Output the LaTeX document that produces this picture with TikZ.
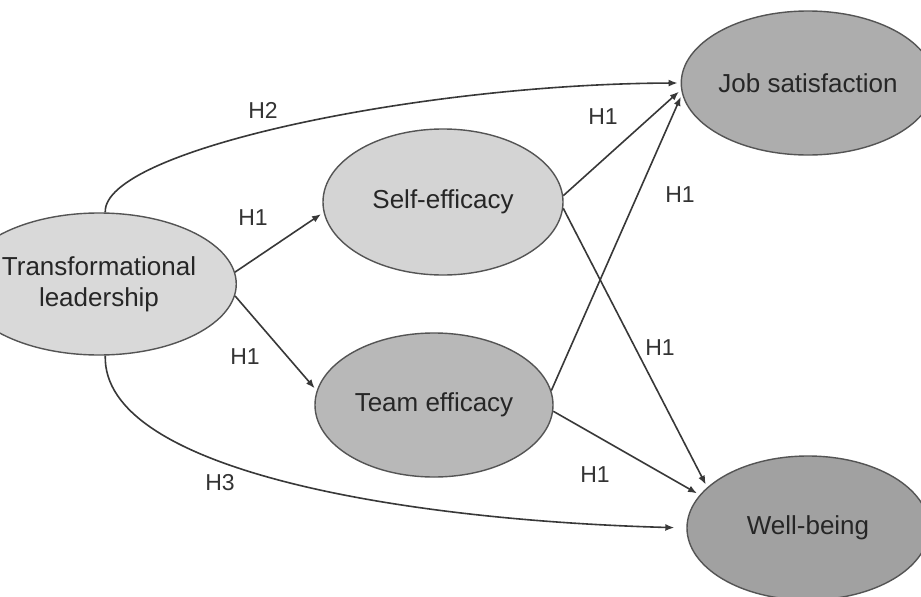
\documentclass[tikz,border=0pt]{standalone}
\usepackage{fontspec}
\setmainfont{Liberation Sans}
\usetikzlibrary{shapes.geometric,arrows.meta}
\definecolor{fillA}{gray}{0.85}
\definecolor{fillB}{gray}{0.83}
\definecolor{fillC}{gray}{0.72}
\definecolor{fillD}{gray}{0.68}
\definecolor{fillE}{gray}{0.63}
\definecolor{edgecol}{gray}{0.33}
\definecolor{linecol}{gray}{0.22}
\begin{document}
\begin{tikzpicture}[x=1pt,y=-1pt,
  construct/.style={ellipse, draw=edgecol, line width=1.4pt, inner sep=0pt,
    font=\fontsize{26}{31}\selectfont, align=center, text=black!85},
  link/.style={draw=linecol, line width=1.6pt, -{Latex[length=9pt,width=7pt]}, shorten >=3pt},
  hyp/.style={font=\fontsize{23}{27}\selectfont, text=black!80, inner sep=0pt}]
\useasboundingbox (0,0) rectangle (921,597);
\clip (0,0) rectangle (921,597);
\fill[white] (0,0) rectangle (921,597);

\node[construct, fill=fillA, minimum width=242pt, minimum height=142pt] (tl) at (99,284) {Transformational\\leadership};
\node[construct, fill=fillB, minimum width=240pt, minimum height=146pt] (se) at (443,202) {Self-efficacy};
\node[construct, fill=fillC, minimum width=238pt, minimum height=144pt] (te) at (434,405) {Team efficacy};
\node[construct, fill=fillD, minimum width=242pt, minimum height=144pt] (js) at (808,83) {Job satisfaction};
\node[construct, fill=fillE, minimum width=242pt, minimum height=144pt] (wb) at (808,528) {Well-being};

\draw[link] (tl.85) .. controls (102,150) and (420,84) .. (js.west);
\draw[link, shorten >=12pt] (tl.-85) .. controls (102,470) and (400,520) .. (wb.west);
\draw[link] (tl.5) -- (se.185);
\draw[link] (tl.-5) -- (te.173);
\draw[link] (se.3) -- (js.183);
\draw[link] (se.-3) -- (wb.158);
\draw[link] (te.7) -- (js.185);
\draw[link] (te.-3) -- (wb.163);

\node[hyp] (h2) at (263,110) {H2};
\node[hyp] (h1a) at (253,218) {H1};
\node[hyp] (h1b) at (245,357) {H1};
\node[hyp] (h3) at (220,483) {H3};
\node[hyp] (h1c) at (603,117) {H1};
\node[hyp] (h1d) at (680,195) {H1};
\node[hyp] (h1e) at (660,348) {H1};
\node[hyp] (h1f) at (595,475) {H1};
\end{tikzpicture}
\end{document}
